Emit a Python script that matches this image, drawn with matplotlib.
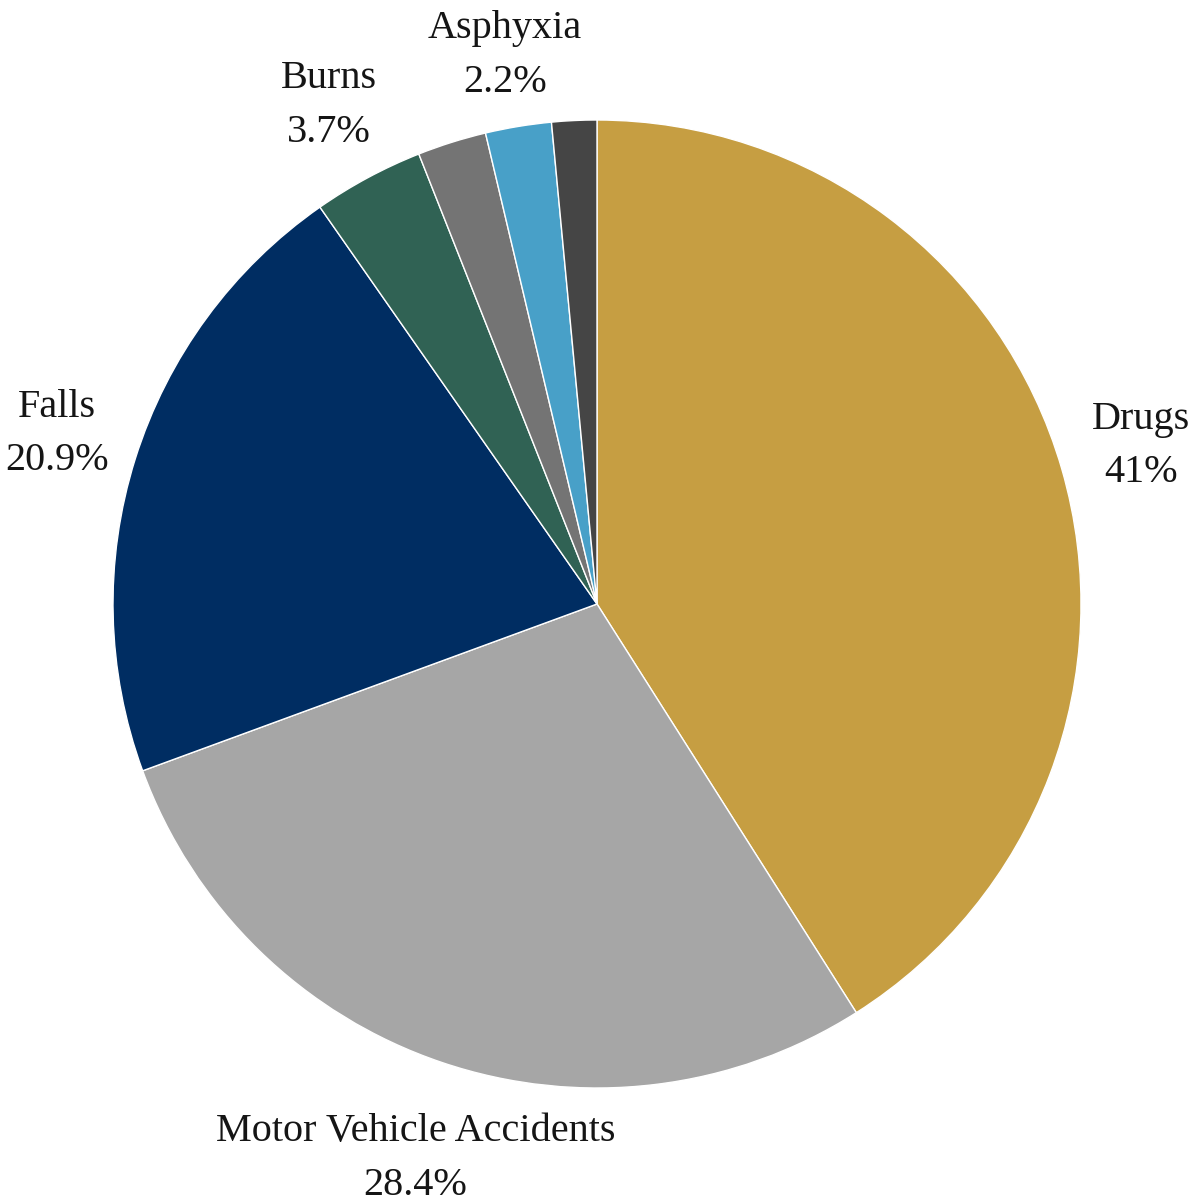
import matplotlib
matplotlib.use("Agg")
from matplotlib import pyplot as plt

# data
categories = ["Drugs", "Motor Vehicle Accidents", "Falls", "Burns", "Other", "Asphyxia", "Unknown"]
shares = [41.0, 28.4, 20.9, 3.7, 2.3, 2.2, 1.5]
show_label = [True, True, True, True, False, True, False]
colors = ["#C69E42", "#A6A6A6", "#002D62", "#306254", "#747474", "#48A0C8", "#454545"]

labels = []
for name, val, show in zip(categories, shares, show_label):
	if show:
		txt = "%g%%" % val
		labels.append(name + "\n" + txt)
	else:
		labels.append("")

fig = plt.figure(figsize=(12.03, 12.04), dpi=100)
ax = fig.add_axes([0, 0, 1, 1])

wedges, texts = ax.pie(shares, labels=labels, colors=colors, startangle=90,
	counterclock=False, center=(597, 600), radius=484, labeldistance=1.17,
	wedgeprops=dict(edgecolor="white", linewidth=1),
	textprops=dict(fontsize=29, family="Liberation Serif", color="#151515"))

# pie resets the limits, so set them afterwards
ax.set_xlim(0, 1203)
ax.set_ylim(0, 1204)
ax.set_aspect("equal")
ax.axis("off")

for t in texts:
	t.set_ha("center")
	t.set_va("center")
	t.set_linespacing(1.6)

# small nudges so the labels sit where the original has them
x, y = texts[1].get_position()
texts[1].set_position((x, y - 18))
x, y = texts[5].get_position()
texts[5].set_position((x, y - 10))

fig.savefig("out.png", dpi=100, facecolor="white")
